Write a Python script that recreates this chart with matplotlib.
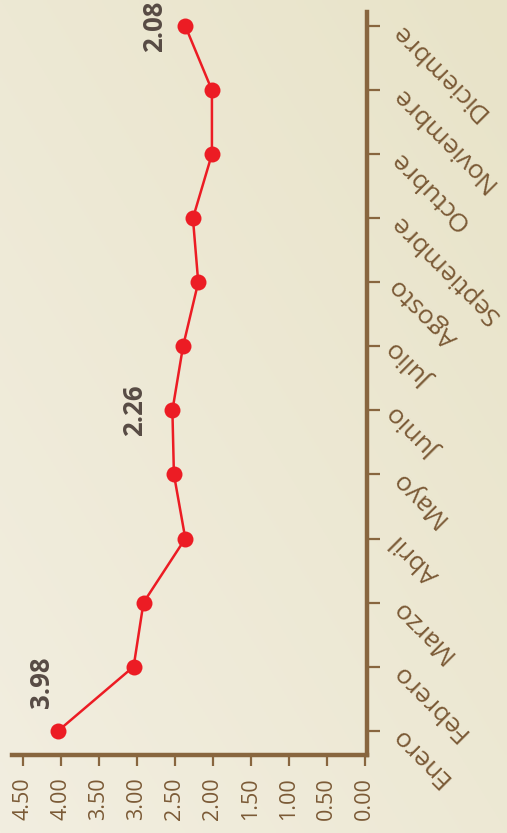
import numpy as np
import matplotlib.pyplot as plt

months = ["Enero", "Febrero", "Marzo", "Abril", "Mayo", "Junio",
          "Julio", "Agosto", "Septiembre", "Octubre", "Noviembre", "Diciembre"]
values = [4.03, 3.04, 2.91, 2.36, 2.51, 2.53, 2.39, 2.19, 2.26, 2.01, 2.01, 2.36]
value_ticks = [4.5, 4.0, 3.5, 3.0, 2.5, 2.0, 1.5, 1.0, 0.5, 0.0]
# labels shown on the chart (month index, text, offset in points)
annotations = [(0, "3.98", (-12, 35)), (5, "2.26", (-27, 0)), (11, "2.08", (-22, 0))]

brown = "#88663f"
label_col = "#7b5a36"
red = "#ec1c24"

plt.rcParams['font.family'] = ['Open Sans', 'DejaVu Sans']

fig = plt.figure(figsize=(5.07, 8.33), dpi=100)

# background gradient
bg = fig.add_axes([0, 0, 1, 1])
yy, xx = np.mgrid[0:1:200j, 0:1:200j]
t = np.clip((yy + (1 - xx)) / 2, 0, 1)
c0 = np.array([232, 227, 200]) / 255.0
c1 = np.array([242, 238, 224]) / 255.0
img = c0[None, None, :] * (1 - t[..., None]) + c1[None, None, :] * t[..., None]
bg.imshow(img, aspect='auto', extent=[0, 1, 0, 1], origin='upper')
bg.set_axis_off()

ax = fig.add_axes([12 / 507, 78 / 833, 355 / 507, 743 / 833])
ax.patch.set_alpha(0)
y = np.arange(len(months))
ax.plot(values, y, color=red, lw=1.8, marker='o', markersize=11.5,
        markeredgewidth=0, zorder=3, clip_on=False)

for i, txt, off in annotations:
    ax.annotate(txt, (values[i], i), xytext=off, textcoords='offset points',
                rotation=90, ha='center', va='center', fontsize=18.5,
                fontweight='bold', color='#574b44', annotation_clip=False)

ax.set_xlim(4.64, -0.03)
ax.set_ylim(-0.38, 11.22)

for s in ['top', 'left']:
    ax.spines[s].set_visible(False)
for s in ['right', 'bottom']:
    ax.spines[s].set_color(brown)
    ax.spines[s].set_linewidth(3.2)

ax.yaxis.tick_right()
ax.set_yticks(y)
ax.set_yticklabels(months, rotation=135, ha='right', va='center',
                   rotation_mode='anchor', fontsize=19, color=label_col)
ax.tick_params(axis='y', direction='out', length=9, width=1.6, color=brown, pad=11)

ax.set_xticks(value_ticks)
ax.set_xticklabels([f"{v:.2f}" for v in value_ticks], rotation=90, ha='right',
                   va='center', rotation_mode='anchor', fontsize=15.5, color=label_col)
ax.tick_params(axis='x', direction='out', length=8, width=1.6, color=brown, pad=8)

fig.savefig("out.png", dpi=100)
